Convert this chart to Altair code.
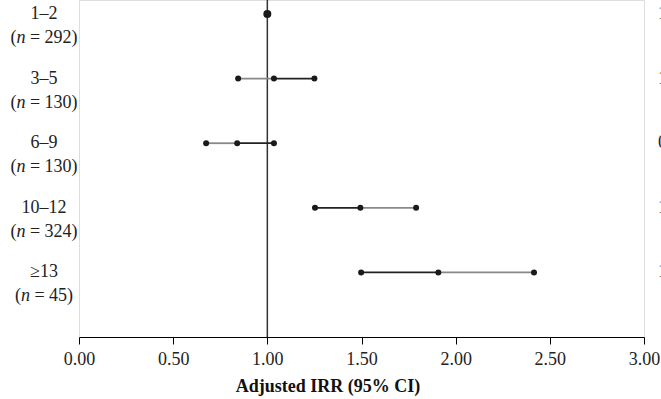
import altair as alt
import pandas as pd

# ---- data ----
groups = ["1–2", "3–5", "6–9", "10–12", "≥13"]
n_vals = ["292", "130", "130", "324", "45"]
irr = [1.00, 1.035, 0.84, 1.494, 1.908]
ci_low = [1.00, 0.845, 0.675, 1.253, 1.498]
ci_high = [1.00, 1.25, 1.035, 1.79, 2.416]
# shade of the lower / upper half of each CI segment ("dark" or "light")
low_shade = ["dark", "light", "light", "dark", "dark"]
high_shade = ["dark", "dark", "dark", "light", "light"]
right_labels = ["1.00", "1.01 (0.83–1.23)", "0.83 (0.67–1.01)",
                "1.49 (1.24–1.79)", "1.90 (1.49–2.41)"]
ticks = [0.0, 0.5, 1.0, 1.5, 2.0, 2.5, 3.0]
ref_value = 1.0
x_title = "Adjusted IRR (95% CI)"

FONT = "Liberation Serif"
FS = 18
W, H = 565, 337

rows = list(range(len(groups)))
# Times-like advance widths (em) for building the "(n = xxx)" line
adv = {"(": 0.333, ")": 0.333, "n": 0.5, " ": 0.25, "=": 0.564}
def width_em(s):
    return sum(adv.get(c, 0.5) for c in s)

lab_center = -35  # plot coords
recs = []
for i in rows:
    full = "(n = " + n_vals[i] + ")"
    start = lab_center - width_em(full) * FS / 2
    recs.append(dict(row=i, group=groups[i], irr=irr[i], lo=ci_low[i], hi=ci_high[i],
                     lo_shade=low_shade[i], hi_shade=high_shade[i],
                     right=right_labels[i],
                     p1="(", p1x=start,
                     p2="n", p2x=start + adv["("] * FS,
                     p3="= " + n_vals[i] + ")", p3x=start + (adv["("] + adv["n"] + adv[" "]) * FS,
                     single=(ci_low[i] == ci_high[i])))
df = pd.DataFrame(recs)

segs = []
for r in recs:
    if not r["single"]:
        segs.append(dict(row=r["row"], a=r["lo"], b=r["irr"], shade=r["lo_shade"]))
        segs.append(dict(row=r["row"], a=r["irr"], b=r["hi"], shade=r["hi_shade"]))
seg_df = pd.DataFrame(segs)

pts = []
for r in recs:
    if r["single"]:
        pts.append(dict(row=r["row"], v=r["irr"], big=True))
    else:
        for v in (r["lo"], r["irr"], r["hi"]):
            pts.append(dict(row=r["row"], v=v, big=False))
pts_df = pd.DataFrame(pts)

xscale = alt.Scale(domain=[0, 3], nice=False, zero=False)
yscale = alt.Scale(domain=[5, -0.217], nice=False, zero=False)
yenc = alt.Y("row:Q", scale=yscale, axis=None)

base_axis = alt.Axis(values=ticks, format=".2f", grid=False, title=None,
                     labelFont=FONT, labelFontSize=18, labelColor="#222",
                     domainColor="black", tickColor="black", tickSize=7,
                     labelPadding=6, domainWidth=1, tickWidth=1, labelFlush=False)

ref = alt.Chart(pd.DataFrame({"x": [ref_value]})).mark_rule(color="#333", strokeWidth=1.5).encode(
    x=alt.X("x:Q", scale=xscale, axis=base_axis),
    y=alt.value(0), y2=alt.value(H))

seg = alt.Chart(seg_df).mark_rule(strokeWidth=1.8).encode(
    x=alt.X("a:Q", scale=xscale), x2="b:Q", y=yenc,
    color=alt.Color("shade:N", scale=alt.Scale(domain=["dark", "light"], range=["#222222", "#888888"]), legend=None))

dots = alt.Chart(pts_df).mark_point(filled=True, color="#1a1a1a", opacity=1).encode(
    x=alt.X("v:Q", scale=xscale), y=yenc,
    size=alt.Size("big:N", scale=alt.Scale(domain=[False, True], range=[36, 64]), legend=None))

lab1 = alt.Chart(df).mark_text(font=FONT, fontSize=FS, align="center", baseline="middle", color="#222").encode(
    x=alt.value(lab_center), y=yenc, text="group:N")
lab_p1 = alt.Chart(df).mark_text(font=FONT, fontSize=FS, align="left", baseline="middle", dy=24, color="#222").encode(
    x=alt.X("p1x:Q", scale=None), y=yenc, text="p1:N")
lab_p2 = alt.Chart(df).mark_text(font=FONT, fontSize=FS, fontStyle="italic", align="left", baseline="middle", dy=24, color="#222").encode(
    x=alt.X("p2x:Q", scale=None), y=yenc, text="p2:N")
lab_p3 = alt.Chart(df).mark_text(font=FONT, fontSize=FS, align="left", baseline="middle", dy=24, color="#222").encode(
    x=alt.X("p3x:Q", scale=None), y=yenc, text="p3:N")

right = alt.Chart(df).mark_text(font=FONT, fontSize=FS, align="left", baseline="middle", color="#222").encode(
    x=alt.value(579), y=yenc, text="right:N")

title = alt.Chart(pd.DataFrame({"t": [x_title]})).mark_text(
    font=FONT, fontSize=18, fontWeight="bold", align="center", baseline="middle", color="#111").encode(
    x=alt.value(249), y=alt.value(387), text="t:N")

chart = alt.layer(ref, seg, dots, lab1, lab_p1, lab_p2, lab_p3, right, title).properties(
    width=W, height=H,
    autosize=alt.AutoSizeParams(type="none"),
    padding={"left": 79, "top": 0, "right": 17, "bottom": 62},
).configure_view(stroke=None).configure(background="white")

chart.save("out.html", embed_options={"renderer": "svg", "actions": False})
